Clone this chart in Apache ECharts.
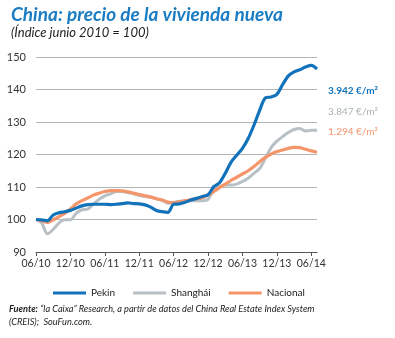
<!DOCTYPE html>
<html><head><meta charset="utf-8">
<script src="https://cdn.jsdelivr.net/npm/echarts@6/dist/echarts.min.js"></script>
<style>html,body{margin:0;padding:0;background:#fff}#c{width:395px;height:338px}</style>
</head><body><div id="c"></div>
<script>
const months = ["06/10","07/10","08/10","09/10","10/10","11/10","12/10","01/11","02/11","03/11","04/11","05/11","06/11","07/11","08/11","09/11","10/11","11/11","12/11","01/12","02/12","03/12","04/12","05/12","06/12","07/12","08/12","09/12","10/12","11/12","12/12","01/13","02/13","03/13","04/13","05/13","06/13","07/13","08/13","09/13","10/13","11/13","12/13","01/14","02/14","03/14","04/14","05/14","06/14","07/14"];
const pekin = [100,99.9,99.6,101.4,102.1,102.4,102.8,103.5,104.2,104.6,104.7,104.7,104.7,104.6,104.7,104.9,105.1,104.9,104.8,104.5,103.8,102.8,102.4,102.2,104.7,104.8,105.3,106.0,106.5,107.1,107.6,110.1,111.3,114.2,117.6,119.8,121.9,124.9,129.0,133.6,137.4,137.7,138.5,141.5,144.2,145.4,146.1,146.9,147.4,146.3];
const shanghai = [100,98.9,95.6,97.0,98.9,99.9,99.9,101.9,103.0,103.2,104.7,106.2,107.3,107.9,108.6,108.6,108.3,107.9,107.4,107.1,106.9,106.4,105.9,105.0,105.2,105.6,105.8,105.8,105.8,105.8,106.2,109.1,110.1,110.6,110.6,110.9,111.7,112.7,114.2,115.7,118.8,122.1,124.1,125.5,126.8,127.7,128.0,127.2,127.5,127.5];
const nacional = [100,99.6,99.1,99.9,100.9,101.9,103.2,104.8,105.8,106.6,107.5,108.1,108.6,108.9,108.9,108.8,108.5,108.1,107.7,107.3,106.9,106.4,106.0,105.4,105.2,105.4,105.8,106.1,106.4,106.7,107.6,108.6,109.8,110.9,112.0,113.0,114.0,115.0,116.3,117.8,119.1,120.1,120.9,121.4,121.9,122.2,122.1,121.6,121.1,120.7];
const seriesNames = ["Pekin","Shanghái","Nacional"];
const priceLabels = ["3.942 €/m²","3.847 €/m²","1.294 €/m²"];
const yTicks = [90,100,110,120,130,140,150];

const BLUE="#1273bb", GRAY="#b7c0c5", ORANGE="#f4956a";
const F="Lato";
const chart = echarts.init(document.getElementById('c'));
chart.setOption({
  animation:false,
  textStyle:{fontFamily:F},
  title:{
    text:"China: precio de la vivienda nueva",
    subtext:"(Índice junio 2010 = 100)",
    left:6, top:0, itemGap:2,
    textStyle:{fontFamily:F,fontSize:19,fontWeight:"bold",fontStyle:"italic",color:"#1a7cc3"},
    subtextStyle:{fontFamily:F,fontSize:13,fontStyle:"italic",color:"#222"}
  },
  grid:{left:36,right:78,top:57,bottom:86,containLabel:false},
  legend:{
    data:seriesNames, left:48, top:283, itemWidth:33, itemHeight:3, itemGap:18,
    icon:"rect", textStyle:{fontFamily:F,fontSize:10,color:"#222"}
  },
  xAxis:{
    type:"category", data:months, boundaryGap:false,
    axisLine:{lineStyle:{color:"#555",width:1}},
    axisTick:{length:4,interval:(i)=>i%6===0,lineStyle:{color:"#555"}},
    axisLabel:{interval:(i)=>i%6===0,fontSize:10.5,color:"#333",margin:6,fontFamily:F}
  },
  yAxis:{
    type:"value", min:yTicks[0], max:yTicks[yTicks.length-1], interval:10,
    axisLine:{show:false}, axisTick:{show:false},
    axisLabel:{fontSize:11,color:"#333",margin:10,fontFamily:F},
    splitLine:{lineStyle:{color:"#b5b5b5",width:1}}
  },
  series:[
    {name:seriesNames[1],type:"line",data:shanghai,smooth:0.3,symbol:"none",lineStyle:{color:GRAY,width:3},itemStyle:{color:GRAY},z:2},
    {name:seriesNames[2],type:"line",data:nacional,smooth:0.3,symbol:"none",lineStyle:{color:ORANGE,width:3.2},itemStyle:{color:ORANGE},z:3},
    {name:seriesNames[0],type:"line",data:pekin,smooth:0.3,symbol:"none",lineStyle:{color:BLUE,width:3.2},itemStyle:{color:BLUE},z:4}
  ],
  graphic:[
    {type:"text",left:328,top:86,style:{text:priceLabels[0],fill:BLUE,fontFamily:F,fontSize:10,fontWeight:"bold"}},
    {type:"text",left:328,top:107,style:{text:priceLabels[1],fill:"#aab3b8",fontFamily:F,fontSize:10}},
    {type:"text",left:328,top:127,style:{text:priceLabels[2],fill:ORANGE,fontFamily:F,fontSize:10}},
    {type:"text",left:9,top:303,style:{
      text:"{b|Fuente:} “la Caixa” Research, a partir de datos del China Real Estate Index System\n(CREIS);  SouFun.com.",
      fill:"#222", fontFamily:F, fontSize:9.2, fontStyle:"italic", lineHeight:13,
      rich:{b:{fontFamily:F,fontSize:9.2,fontStyle:"italic",fontWeight:"bold",fill:"#222"}}
    }}
  ]
});
</script></body></html>
